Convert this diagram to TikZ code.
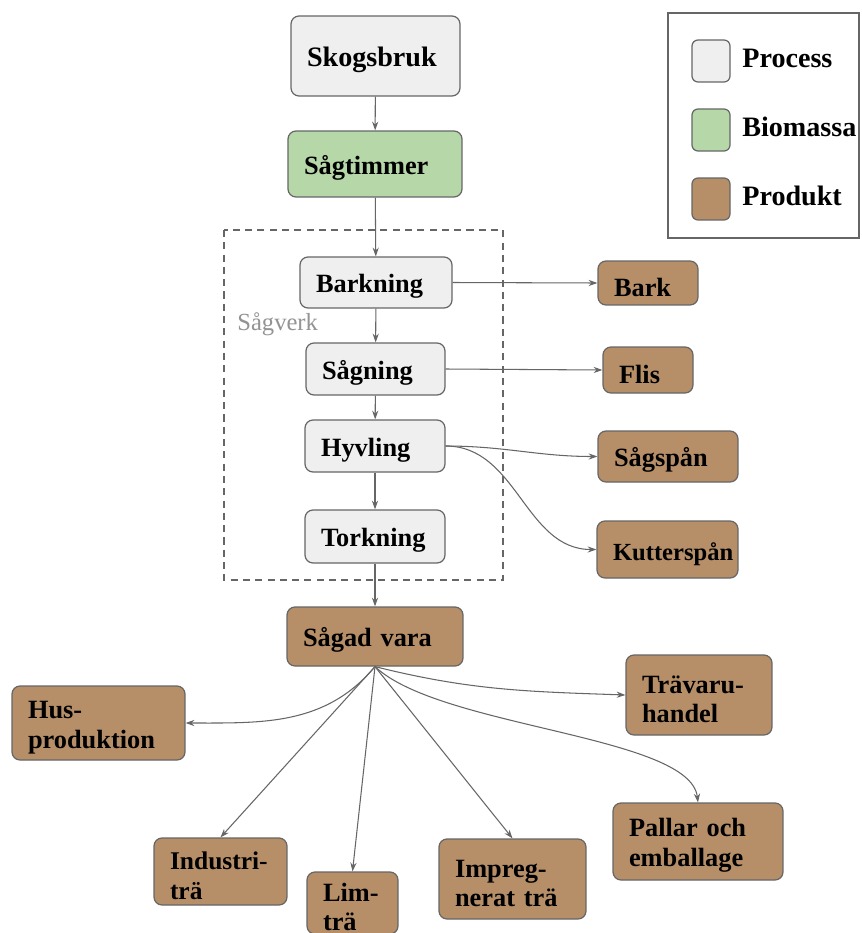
\documentclass[tikz,border=0pt]{standalone}
\usepackage{fontspec}
\setmainfont{Liberation Serif}
\usetikzlibrary{arrows.meta}
\definecolor{procfill}{HTML}{EFEFEF}
\definecolor{biofill}{HTML}{B6D7A8}
\definecolor{prodfill}{HTML}{B68F68}
\definecolor{edgegray}{HTML}{666666}
\tikzset{
  box/.style={draw=edgegray, line width=0.7pt, rounded corners=0.16cm, align=left,
    inner xsep=0.32cm, inner ysep=0pt, font=\bfseries\fontsize{15}{17}\selectfont,
    execute at begin node={\rule{0pt}{15pt}}},
  proc/.style={box, fill=procfill},
  bio/.style={box, fill=biofill},
  prod/.style={box, fill=prodfill},
  flow/.style={->, draw=edgegray, line width=0.6pt},
  swatch/.style={draw=edgegray, line width=0.7pt, rounded corners=0.12cm,
    minimum width=0.76cm, minimum height=0.84cm, inner sep=0pt},
  legtext/.style={anchor=west, inner sep=0pt, font=\bfseries\fontsize{16}{18}\selectfont},
}
\begin{document}
\begin{tikzpicture}[x=0.02cm, y=-0.02cm, >={Stealth[length=5pt,width=3.5pt]}]
  \useasboundingbox (0,0) rectangle (862,933);
  \fill[white] (0,0) rectangle (862,933);

  % legend
  \draw[edgegray, line width=0.7pt] (668,13) rectangle (859,238);
  \node[swatch, fill=procfill] (legproc) at (711,61) {};
  \node[swatch, fill=biofill] (legbio) at (711,130) {};
  \node[swatch, fill=prodfill] (legprod) at (711,199) {};
  \node[legtext] at (742,58) {Process};
  \node[legtext] at (742,127) {Biomassa};
  \node[legtext] at (742,196) {Produkt};

  \draw[edgegray, line width=0.6pt, dash pattern=on 4pt off 3pt] (224,230) rectangle (503,580);
  \node[anchor=west, inner sep=0pt, text=gray!85, font=\fontsize{14}{16}\selectfont] (sagverk) at (237,324) {Sågverk};

  \node[proc, text width=2.74cm, minimum height=1.6cm, font=\bfseries\fontsize{16}{18}\selectfont] (skog) at (375.5,56) {Skogsbruk};
  \node[bio, text width=2.84cm, minimum height=1.32cm] (timmer) at (375,164) {Sågtimmer};
  \node[proc, text width=2.4cm, minimum height=1.02cm] (bark) at (376,282.5) {Barkning};
  \node[proc, text width=2.14cm, minimum height=1.04cm] (sag) at (375.5,369) {Sågning};
  \node[proc, text width=2.16cm, minimum height=1.04cm] (hyv) at (375,446) {Hyvling};
  \node[proc, text width=2.16cm, minimum height=1.06cm] (tork) at (375,536.5) {Torkning};
  \node[prod, text width=2.88cm, minimum height=1.18cm] (sagad) at (375,636.5) {Sågad vara};

  \node[prod, text width=1.36cm, minimum height=0.88cm] (barkp) at (648,283) {Bark};
  \node[prod, text width=1.16cm, minimum height=0.92cm] (flis) at (648,370) {Flis};
  \node[prod, text width=2.16cm, minimum height=1.02cm] (sagspan) at (668,456.5) {Sågspån};
  \node[prod, text width=2.18cm, minimum height=1.14cm, font=\bfseries\fontsize{14}{16}\selectfont] (kutter) at (667.5,549.5) {Kutterspån};

  \node[prod, text width=2.82cm, minimum height=1.48cm] (hus) at (98.5,723) {Hus-\\produktion};
  \node[prod, text width=2.02cm, minimum height=1.34cm, font=\bfseries\fontsize{14.5}{17}\selectfont] (industri) at (220.5,871.5) {Industri-\\trä};
  \node[prod, text width=1.18cm, minimum height=1.24cm, execute at begin node={}] (lim) at (352.5,903) {Lim-\\trä};
  \node[prod, text width=2.3cm, minimum height=1.6cm] (impreg) at (512.5,879) {Impreg-\\nerat trä};
  \node[prod, text width=2.76cm, minimum height=1.54cm] (pallar) at (698,841.5) {Pallar och\\emballage};
  \node[prod, text width=2.28cm, minimum height=1.6cm] (handel) at (699,695) {Trävaru-\\handel};

  \draw[flow] (skog) -- (timmer);
  \draw[flow] (timmer) -- (bark);
  \draw[flow] (bark) -- (sag);
  \draw[flow] (sag) -- (hyv);
  \draw[flow] (hyv) -- (tork);
  \draw[flow] (tork) -- (sagad);

  \draw[flow] (bark.east) -- (barkp.west);
  \draw[flow] (sag.east) -- (flis.west);
  \draw[flow] (hyv.east) to[out=0, in=180] (sagspan.west);
  \draw[flow] (hyv.east) to[out=0, in=180] (kutter.west);

  \draw[flow] (sagad.south) to[out=230, in=0] (hus.east);
  \draw[flow] (sagad.south) -- (industri.north);
  \draw[flow] (sagad.south) -- (lim.north);
  \draw[flow] (sagad.south) -- (impreg.north);
  \draw[flow] (sagad.south) .. controls (440,728) and (690,735) .. (pallar.north);
  \draw[flow] (sagad.south) to[out=-14, in=178] (handel.west);
\end{tikzpicture}
\end{document}
